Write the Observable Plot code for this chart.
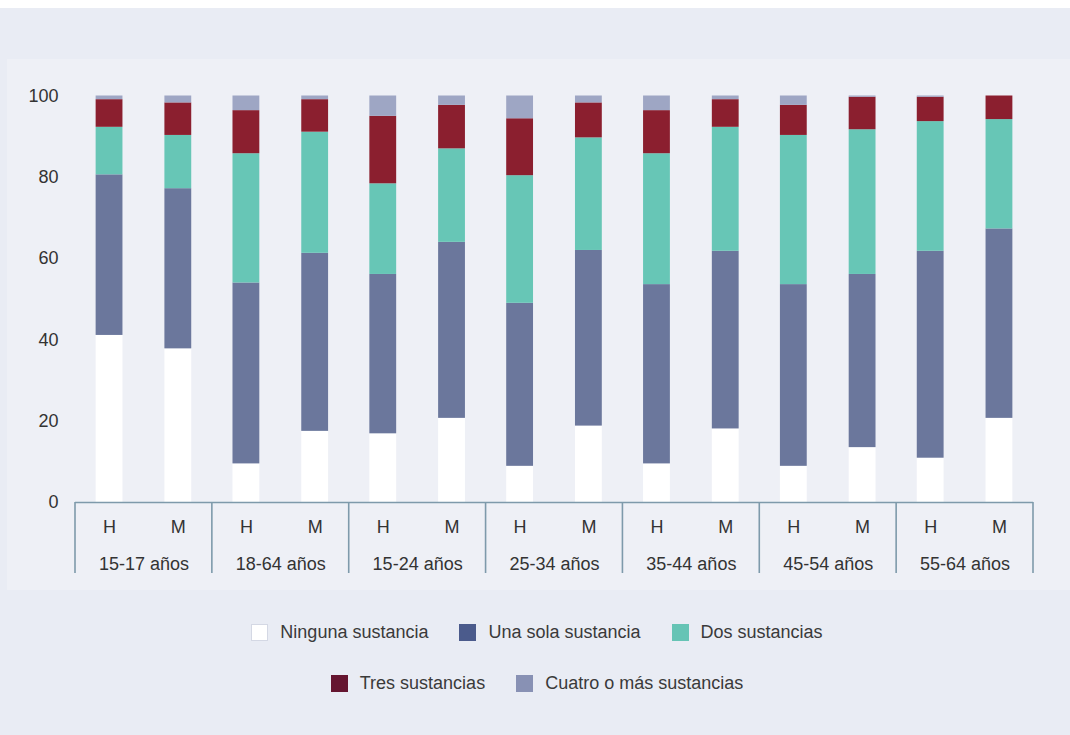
<!DOCTYPE html>
<html>
<head>
<meta charset="utf-8">
<script src="https://cdn.jsdelivr.net/npm/d3@7"></script>
<script src="https://cdn.jsdelivr.net/npm/@observablehq/plot@0.6"></script>
<style>
  body { margin: 0; font-family: "Liberation Sans", Arial, sans-serif; }
  #page { position: relative; width: 1070px; height: 735px; background: #e9ecf4; overflow: hidden; }
  #top { position: absolute; left: 0; top: 0; width: 1070px; height: 8px; background: #fff; }
  #panel { position: absolute; left: 7px; top: 59px; width: 1063px; height: 531px; background: #eef0f6; }
  #chart { position: absolute; left: 0; top: 0; }
  .row { position: absolute; left: 2px; width: 1070px; display: flex; justify-content: center; align-items: center; font-size: 18px; color: #3a3a3a; }
  .item { display: flex; align-items: center; margin: 0 15.5px; }
  .sw { width: 17px; height: 17px; margin-right: 12px; box-sizing: border-box; }
</style>
</head>
<body>
<div id="page">
  <div id="top"></div>
  <div id="panel"></div>
  <div id="chart"></div>
  <div id="row1" class="row" style="top:622px"></div>
  <div id="row2" class="row" style="top:673px"></div>
</div>
<script>
const groups = ["15-17 años", "18-64 años", "15-24 años", "25-34 años", "35-44 años", "45-54 años", "55-64 años"];
const sexes = ["H", "M"];
const categories = ["Ninguna sustancia", "Una sola sustancia", "Dos sustancias", "Tres sustancias", "Cuatro o más sustancias"];
// values in order: for each group, H then M
const ninguna = [41.1, 37.8, 9.5, 17.5, 16.9, 20.7, 8.9, 18.8, 9.5, 18.1, 8.9, 13.5, 10.9, 20.7];
const una     = [39.5, 39.4, 44.5, 43.8, 39.2, 43.3, 40.1, 43.2, 44.1, 43.7, 44.7, 42.6, 50.9, 46.6];
const dos     = [11.7, 13.1, 31.8, 29.8, 22.3, 23.0, 31.4, 27.7, 32.2, 30.5, 36.7, 35.6, 31.9, 26.9];
const tres    = [6.8, 8.0, 10.6, 8.0, 16.6, 10.7, 14.0, 8.6, 10.6, 6.8, 7.4, 8.0, 6.0, 5.8];
const cuatro  = [0.9, 1.7, 3.6, 0.9, 5.0, 2.3, 5.6, 1.7, 3.6, 0.9, 2.3, 0.3, 0.3, 0.0];
const yTicks = [0, 20, 40, 60, 80, 100];

const barColors = ["#ffffff", "#6b779c", "#67c6b6", "#8b1f2f", "#9ea6c4"];
const legendColors = ["#ffffff", "#4b5b8c", "#66c4b5", "#651530", "#8891b4"];

const series = [ninguna, una, dos, tres, cuatro];
const data = [];
groups.forEach((g, gi) => {
  sexes.forEach((s, si) => {
    const idx = gi * 2 + si;
    categories.forEach((c, ci) => {
      data.push({group: g, sex: s, cat: c, value: series[ci][idx]});
    });
  });
});

const plot = Plot.plot({
  width: 1070,
  height: 600,
  marginTop: 95.5,
  marginBottom: 98,
  marginLeft: 75,
  marginRight: 37,
  style: {background: "transparent", fontSize: "18px", fontFamily: "'Liberation Sans', Arial, sans-serif", color: "#333"},
  fx: {domain: groups, padding: 0, round: false, label: null},
  x: {domain: sexes, paddingInner: 0.61, paddingOuter: 0.3, round: false, label: null},
  y: {domain: [0, 100], label: null},
  color: {domain: categories, range: barColors},
  marks: [
    Plot.barY(data, {fx: "group", x: "sex", y: "value", fill: "cat"}),
    Plot.ruleY([0], {stroke: "#7e9aab", strokeWidth: 1.6}),
    Plot.axisY({ticks: yTicks, tickSize: 0, tickPadding: 17, label: null}),
    Plot.axisX({tickSize: 0, tickPadding: 18, label: null}),
    Plot.axisFx({anchor: "bottom", tickSize: 0, tickPadding: 55, label: null})
  ]
});
document.getElementById("chart").appendChild(plot);

// group separators drawn from the facet scale
const fx = plot.scale("fx");
const y0 = plot.scale("y").apply(0);
const svg = d3.select(plot);
const edges = groups.map(g => fx.apply(g));
edges.push(fx.apply(groups[groups.length - 1]) + fx.bandwidth);
svg.append("g").selectAll("line").data(edges).join("line")
  .attr("x1", d => d).attr("x2", d => d)
  .attr("y1", y0).attr("y2", y0 + 71)
  .attr("stroke", "#7e9aab").attr("stroke-width", 1.6);

// legend
function addItem(row, i) {
  const item = document.createElement("div");
  item.className = "item";
  const sw = document.createElement("div");
  sw.className = "sw";
  sw.style.background = legendColors[i];
  if (i === 0) sw.style.border = "1px solid #d4d8e4";
  const t = document.createElement("span");
  t.textContent = categories[i];
  item.appendChild(sw); item.appendChild(t);
  row.appendChild(item);
}
const r1 = document.getElementById("row1"), r2 = document.getElementById("row2");
[0, 1, 2].forEach(i => addItem(r1, i));
[3, 4].forEach(i => addItem(r2, i));
</script>
</body>
</html>
